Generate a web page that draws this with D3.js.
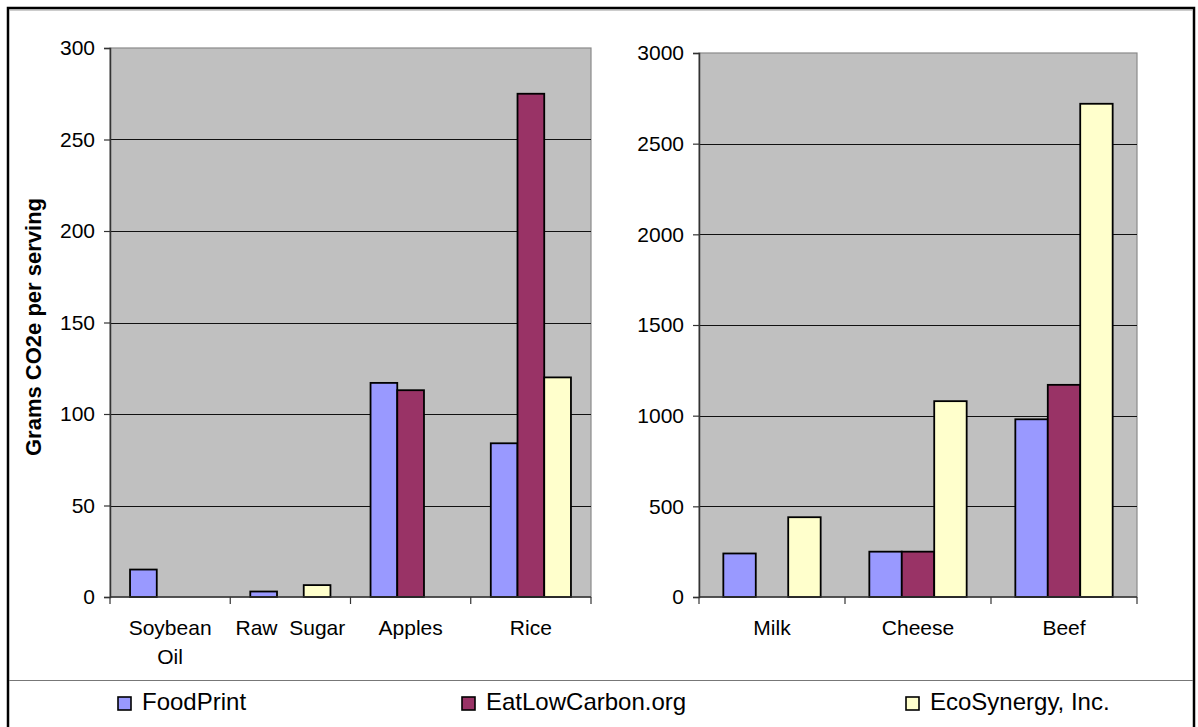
<!DOCTYPE html>
<html>
<head>
<meta charset="utf-8">
<script src="https://cdn.jsdelivr.net/npm/d3@7"></script>
<style>
  html, body { margin: 0; padding: 0; background: #fff; }
  svg { display: block; }
  text { font-family: "Liberation Sans", Arial, sans-serif; fill: #000; }
</style>
</head>
<body>
<svg id="chart" width="1198" height="727"></svg>
<script>
// Series names and colours
const seriesNames = ["FoodPrint", "EatLowCarbon.org", "EcoSynergy, Inc."];
const seriesColors = ["#9999FF", "#993366", "#FFFFCC"];

// Plant foods (grams CO2e per serving)
const plantCategories = ["Soybean Oil", "Raw  Sugar", "Apples", "Rice"];
const plantFoodPrint = [15, 3, 117, 84];
const plantEatLowCarbon = [null, null, 113, 275];
const plantEcoSynergy = [null, 6.5, null, 120];
const plantTicks = [0, 50, 100, 150, 200, 250, 300];

// Animal foods (grams CO2e per serving)
const animalCategories = ["Milk", "Cheese", "Beef"];
const animalFoodPrint = [240, 250, 980];
const animalEatLowCarbon = [null, 250, 1170];
const animalEcoSynergy = [440, 1080, 2720];
const animalTicks = [0, 500, 1000, 1500, 2000, 2500, 3000];

const yTitle = "Grams CO2e per serving";

// category label line breaks
const labelLines = { "Soybean Oil": ["Soybean", "Oil"] };

const svg = d3.select("#chart");
const AXIS_FONT = 21;
const LEGEND_FONT = 24;

// outer frame (bottom edge runs off the page)
svg.append("rect")
  .attr("x", 8).attr("y", 8)
  .attr("width", 1186).attr("height", 760)
  .attr("fill", "#fff").attr("stroke", "#000").attr("stroke-width", 2.5);
svg.append("line")
  .attr("x1", 9.5).attr("x2", 1192.5).attr("y1", 10).attr("y2", 10)
  .attr("stroke", "#9a9a9a").attr("stroke-width", 1);

function panel(cfg) {
  const { x0, x1, yTop, yBot, categories, series, ticks, max } = cfg;
  const g = svg.append("g");

  const x = d3.scaleBand().domain(categories).range([x0, x1]).paddingInner(0).paddingOuter(0);
  const xs = d3.scaleBand().domain(d3.range(series.length)).range([0, x.bandwidth()])
    .paddingInner(0).paddingOuter(0.75);
  const y = d3.scaleLinear().domain([0, max]).range([yBot, yTop]);

  // plot area
  g.append("rect")
    .attr("x", x0).attr("y", y(max))
    .attr("width", x1 - x0).attr("height", yBot - y(max))
    .attr("fill", "#C0C0C0").attr("stroke", "#8a8a8a").attr("stroke-width", 1.2);

  // gridlines
  g.append("g").selectAll("line")
    .data(ticks.filter(t => t > 0 && t < max))
    .join("line")
    .attr("x1", x0).attr("x2", x1)
    .attr("y1", d => Math.round(y(d)) + 0.5).attr("y2", d => Math.round(y(d)) + 0.5)
    .attr("stroke", "#111").attr("stroke-width", 1);

  // bars
  series.forEach((vals, si) => {
    g.append("g").selectAll("rect")
      .data(categories.map((c, i) => ({ c, v: vals[i] })).filter(d => d.v != null))
      .join("rect")
      .attr("x", d => x(d.c) + xs(si))
      .attr("y", d => y(d.v))
      .attr("width", xs.bandwidth())
      .attr("height", d => yBot - y(d.v))
      .attr("fill", seriesColors[si])
      .attr("stroke", "#000").attr("stroke-width", 1.8);
  });

  // value axis
  const ay = g.append("g")
    .attr("transform", `translate(${x0},0)`)
    .call(d3.axisLeft(y).tickValues(ticks).tickSize(6).tickPadding(9).tickFormat(d3.format("d")));
  ay.select(".domain").attr("stroke", "#333").attr("stroke-width", 1.5);
  ay.selectAll(".tick line").attr("stroke", "#333").attr("stroke-width", 1.2);
  ay.selectAll(".tick text")
    .attr("font-size", AXIS_FONT).attr("font-family", null).attr("fill", "#000");

  // category axis: baseline plus ticks on band boundaries
  g.append("line")
    .attr("x1", x0).attr("x2", x1).attr("y1", yBot).attr("y2", yBot)
    .attr("stroke", "#333").attr("stroke-width", 1.5);
  const bounds = categories.map(c => x(c)).concat([x1]);
  g.append("g").selectAll("line")
    .data(bounds).join("line")
    .attr("x1", d => d).attr("x2", d => d)
    .attr("y1", yBot).attr("y2", yBot + 7)
    .attr("stroke", "#333").attr("stroke-width", 1.2);

  const lbl = g.append("g").selectAll("text")
    .data(categories).join("text")
    .attr("x", d => x(d) + x.bandwidth() / 2)
    .attr("y", yBot + 38)
    .attr("text-anchor", "middle")
    .attr("font-size", AXIS_FONT)
    .style("white-space", "pre");
  lbl.each(function (d) {
    const lines = labelLines[d] || [d];
    d3.select(this).selectAll("tspan")
      .data(lines).join("tspan")
      .attr("x", x(d) + x.bandwidth() / 2)
      .attr("dy", (l, i) => i === 0 ? 0 : 29)
      .text(l => l);
  });
}

panel({
  x0: 110, x1: 591, yTop: 48, yBot: 597, max: 300,
  categories: plantCategories,
  series: [plantFoodPrint, plantEatLowCarbon, plantEcoSynergy],
  ticks: plantTicks
});

panel({
  x0: 699, x1: 1137, yTop: 53, yBot: 597, max: 3000,
  categories: animalCategories,
  series: [animalFoodPrint, animalEatLowCarbon, animalEcoSynergy],
  ticks: animalTicks
});

// value axis title
svg.append("text")
  .attr("transform", "translate(41,327) rotate(-90)")
  .attr("text-anchor", "middle")
  .attr("font-size", 22)
  .attr("font-weight", "bold")
  .text(yTitle);

// legend
svg.append("line")
  .attr("x1", 9).attr("x2", 1193).attr("y1", 680.5).attr("y2", 680.5)
  .attr("stroke", "#777").attr("stroke-width", 1);

const legendX = [118, 462, 906];
const lg = svg.append("g").selectAll("g")
  .data(seriesNames).join("g")
  .attr("transform", (d, i) => `translate(${legendX[i]},697)`);
lg.append("rect")
  .attr("width", 13).attr("height", 13)
  .attr("fill", (d, i) => seriesColors[i])
  .attr("stroke", "#000").attr("stroke-width", 1.6);
lg.append("text")
  .attr("x", 24).attr("y", 13)
  .attr("font-size", LEGEND_FONT)
  .text(d => d);
</script>
</body>
</html>
